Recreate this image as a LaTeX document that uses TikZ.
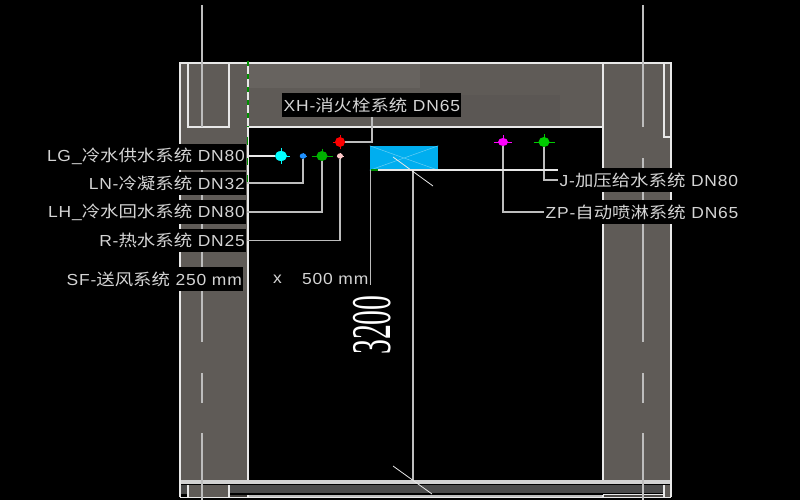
\documentclass[tikz,border=0pt]{standalone}
\usepackage{fontspec}
\setmainfont{Liberation Sans}[LetterSpace=5,FakeStretch=1.09]
\newfontfamily\cjk{Noto Sans CJK SC}[FakeStretch=1.15]
\newfontfamily\dimfont{Liberation Serif}
\newcommand{\cj}[1]{{\cjk\fontsize{16}{16}\selectfont #1}}
\definecolor{concrete}{HTML}{5F5B57}
\definecolor{linew}{HTML}{E8E8E8}
\definecolor{lineg}{HTML}{BDBDBD}
\definecolor{textc}{HTML}{D4D4D4}
\definecolor{ductc}{HTML}{00AEEF}
\definecolor{bandc}{HTML}{4A4A4A}
\definecolor{symred}{HTML}{FF0000}
\definecolor{symcyan}{HTML}{00FFFF}
\definecolor{symblue}{HTML}{1E90FF}
\definecolor{symgreen}{HTML}{00B000}
\definecolor{symgreenb}{HTML}{00CC00}
\definecolor{sympink}{HTML}{FFC8C8}
\definecolor{symmag}{HTML}{FF00FF}
\definecolor{greenline}{HTML}{009000}
\usetikzlibrary{shapes.geometric}
\tikzset{
  x=1pt,y=-1pt,
  wall/.style={line width=1.3pt,draw=linew},
  axisline/.style={line width=1.5pt,draw=lineg},
  leader/.style={line width=1.8pt,draw=lineg},
  lab/.style={fill=black,text=textc,inner xsep=1.5pt,inner ysep=0pt,minimum height=24pt,font=\fontsize{16}{16}\selectfont},
  pipe/.style={ellipse,fill=#1,inner sep=0pt},
}
\newcommand{\crosssym}[8]{% name, x, y, colour, width, height, half width, half height
  \node[pipe=#4,minimum width=#5pt,minimum height=#6pt] (#1) at (#2,#3) {};
  \draw[#4,line width=1pt] (#2-#7,#3) -- (#2+#7,#3) (#2,#3-#8) -- (#2,#3+#8);
}
\begin{document}
\begin{tikzpicture}
\useasboundingbox (0,0) rectangle (800,500);
\fill[black] (0,0) rectangle (800,500);
% concrete
\fill[concrete] (180,63) rectangle (671,127);
\fill[concrete] (180,127) rectangle (248,480);
\fill[concrete] (603,127) rectangle (671,480);
\fill[concrete!95!white] (248,64) rectangle (420,88);
\fill[concrete!96!black] (430,95) rectangle (560,127);
% bottom slab band
\fill[linew!90!black] (180,480) rectangle (671,484);
\fill[bandc] (180,485) rectangle (188,493.5);
\fill[bandc] (229,485) rectangle (664,493);
\fill[concrete] (188,485) rectangle (229,497);
\fill[concrete!70!black] (229,495) rectangle (248,497);
\fill[lineg] (248,495) rectangle (603,498);
\fill[concrete!80!black] (603,495) rectangle (664,497);
\fill[concrete] (664,485) rectangle (671,497);
\draw[wall] (180,497.5) -- (671,497.5);
\draw[wall,line width=.9pt] (603,494) -- (664,494);
\draw[wall] (188,485) -- (188,497) (229,485) -- (229,497) (248,495) -- (248,497) (603,495) -- (603,497) (664,485) -- (664,497);
% wall outlines
\draw[wall] (180,497) -- (180,63) -- (671,63) -- (671,497);
\draw[wall] (248,127) -- (248,480);
\draw[wall] (248,127) -- (603,127);
\draw[wall] (603,63) -- (603,480);
\draw[wall] (188,63) -- (188,127) -- (229,127) -- (229,63);
\draw[wall] (664,63) -- (664,137) -- (671,137);
% axes
\draw[axisline] (202,5) -- (202,127) (202,158) -- (202,342) (202,373) -- (202,403) (202,433) -- (202,500);
\draw[axisline] (643,5) -- (643,127) (643,158) -- (643,342) (643,373) -- (643,403) (643,433) -- (643,500);
% dashed corner line with green
\draw[greenline,line width=1.2pt] (248,61) -- (248,127);
\draw[linew,line width=1.2pt,dash pattern=on 8pt off 5pt] (248,66) -- (248,127);
\draw[greenline,line width=1.1pt] (247.6,137) -- (247.6,145) (247.6,158) -- (247.6,165) (247.6,175) -- (247.6,183);
% duct
\node[fill=ductc,minimum width=68pt,minimum height=24pt,inner sep=0pt] (duct) at (404,158) {};
\draw[ductc!60!white,line width=.5pt] (duct.north west) -- (duct.south east) (duct.north east) -- (duct.south west);
% dimension
\coordinate (ductbase) at (413,170);
\coordinate (floorbase) at (413,480);
\draw[leader] (ductbase) -- (floorbase);
\draw[linew,line width=.8pt] (393,157) -- (433,186) (393,466) -- (432,494);
\node[rotate=90,text=white,inner sep=0pt] (dimtext) at (372,325) {\scalebox{.53}[1]{\dimfont\fontsize{56}{56}\selectfont 3200}};
% symbols
\crosssym{xh}{340}{142}{symred}{10}{10}{7}{6.5}
\crosssym{lg}{281}{156}{symcyan}{12}{10}{8.5}{8}
\crosssym{ln}{303}{156}{symblue}{6.5}{5.5}{3.5}{3}
\crosssym{lh}{322}{156}{symgreen}{11}{10}{10.5}{7.5}
\crosssym{rr}{340}{156}{sympink}{6}{5.5}{3.5}{3}
\crosssym{zp}{503}{142}{symmag}{10}{8}{9}{6.5}
\crosssym{jj}{544}{142}{symgreenb}{11}{10}{10.5}{7.5}
% labels
\node[lab,anchor=west] (xhl) at (282,105.5) {XH-\cj{消火栓系统} DN65};
\node[lab,anchor=east,minimum height=26pt] (lgl) at (246.5,156.5) {LG\kern1pt\_\cj{冷水供水系统} DN80};
\node[lab,anchor=east,minimum height=23pt] (lnl) at (246.5,183) {LN-\cj{冷凝系统} DN32};
\node[lab,anchor=east] (lhl) at (246.5,212) {LH\_\cj{冷水回水系统} DN80};
\node[lab,anchor=east,minimum height=23pt] (rl) at (246.5,240.5) {R-\cj{热水系统} DN25};
\node[lab,anchor=east] (sfl) at (243.5,279) {SF-\cj{送风系统} 250 mm};
\node[lab,anchor=west,fill=none] (sfx) at (271.5,279) {x};
\node[lab,anchor=east,fill=none] (sfr) at (370,279) {500 mm};
\node[lab,anchor=west] (jl) at (558,180) {J-\cj{加压给水系统} DN80};
\node[lab,anchor=west] (zl) at (544,212) {ZP-\cj{自动喷淋系统} DN65};
% connectors
\coordinate (ductl) at (370.5,170);
\coordinate (ductr) at (558,170);
\coordinate (sfend) at (370.5,285);
\draw[wall] (248,156) -- (lg);
\draw[leader] (lnl.east) -| (ln);
\draw[leader] (lhl.east) -| (lh);
\draw[leader] (rl.east) -| (rr);
\draw[leader] (xh) -| (372,117);
\draw[leader] (jj) |- (jl.west);
\draw[leader] (zp) |- (zl.west);
\draw[wall,line width=1.6pt] (ductl) -- (ductr);
\draw[leader] (ductl) -- (sfend);
\draw[greenline,line width=1.6pt] (ductl) -- ++(7,0);
\end{tikzpicture}
\end{document}
